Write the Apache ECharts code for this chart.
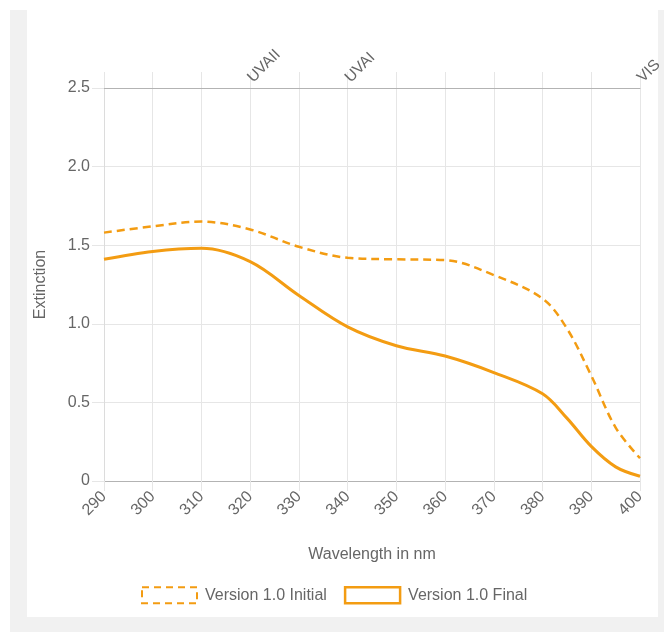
<!DOCTYPE html>
<html>
<head>
<meta charset="utf-8">
<script src="https://cdn.jsdelivr.net/npm/echarts@6/dist/echarts.min.js"></script>
<style>
html,body{margin:0;padding:0;background:#fff;width:664px;height:632px;overflow:hidden;}
#bg{position:absolute;left:10px;top:10px;width:654px;height:622px;background:#f1f1f1;}
#panel{position:absolute;left:27px;top:0;width:631px;height:617px;background:#fff;}
#chart{position:absolute;left:27px;top:0;width:637px;height:617px;}
</style>
</head>
<body>
<div id="bg"></div>
<div id="panel"></div>
<div id="chart"></div>
<script>
var wavelengths = [290, 300, 310, 320, 330, 340, 350, 360, 370, 380, 385, 390, 395, 400];
var initialValues = [1.58, 1.62, 1.65, 1.60, 1.49, 1.42, 1.41, 1.405, 1.31, 1.16, 0.97, 0.67, 0.34, 0.145];
var finalValues = [1.41, 1.46, 1.48, 1.395, 1.18, 0.98, 0.86, 0.795, 0.69, 0.555, 0.40, 0.22, 0.09, 0.03];
var topTickValues = [320, 340, 400];
var topTickNames = ['UVAII', 'UVAI', 'VIS'];
var seriesNames = ['Version 1.0 Initial', 'Version 1.0 Final'];

var ORANGE = '#f39c12';
var TXT = '#666';
var GRID = '#e6e6e6';
var FONT = 'Liberation Sans, Arial, sans-serif';

function pairs(xs, ys) { return xs.map(function (x, i) { return [x, ys[i]]; }); }

var chart = echarts.init(document.getElementById('chart'), null, { renderer: 'canvas' });
chart.setOption({
  animation: false,
  backgroundColor: 'transparent',
  textStyle: { fontFamily: FONT },
  grid: { left: 77, right: 24, top: 88, bottom: 136, containLabel: false, outerBoundsMode: 'none' },
  legend: {
    left: 109, top: 581,
    itemWidth: 55, itemHeight: 16, itemGap: 17,
    icon: 'rect',
    textStyle: { color: TXT, fontSize: 16, fontFamily: FONT, padding: [0, 0, 0, 3] },
    data: [
      { name: seriesNames[0], itemStyle: { color: 'transparent', borderColor: ORANGE, borderWidth: 2, borderType: [7, 5] } },
      { name: seriesNames[1], itemStyle: { color: 'transparent', borderColor: ORANGE, borderWidth: 2.5, borderType: 'solid' } }
    ]
  },
  xAxis: [
    {
      type: 'value', min: 290, max: 400, interval: 10, position: 'bottom',
      name: 'Wavelength in nm', nameLocation: 'middle', nameGap: 66,
      nameTextStyle: { color: TXT, fontSize: 16, fontFamily: FONT },
      axisLine: { show: true, lineStyle: { color: '#b3b3b3', width: 1 } },
      axisTick: { show: true, length: 10, lineStyle: { color: GRID } },
      axisLabel: { color: TXT, fontSize: 16, rotate: 45, margin: 13, showMinLabel: true, showMaxLabel: true },
      splitLine: { show: true, lineStyle: { color: GRID } }
    },
    {
      type: 'value', min: 290, max: 400, interval: 10, position: 'top',
      axisLine: { show: true, lineStyle: { color: '#b3b3b3', width: 1 } },
      axisTick: { show: true, length: 16, lineStyle: { color: GRID } },
      axisLabel: {
        color: TXT, fontSize: 15.5, rotate: -45, margin: 8, showMinLabel: true, showMaxLabel: true,
        formatter: function (v) { var i = topTickValues.indexOf(v); return i >= 0 ? topTickNames[i] : ''; }
      },
      splitLine: { show: false }
    }
  ],
  yAxis: {
    type: 'value', min: 0, max: 2.5, interval: 0.5,
    name: 'Extinction', nameLocation: 'middle', nameGap: 55,
    nameTextStyle: { color: TXT, fontSize: 16, fontFamily: FONT },
    axisLine: { show: true, lineStyle: { color: '#dcdcdc' } },
    axisTick: { show: true, length: 12, lineStyle: { color: GRID } },
    axisLabel: { color: TXT, fontSize: 16, margin: 14, formatter: function (v) { return v === 0 ? '0' : v.toFixed(1); } },
    splitLine: { show: true, lineStyle: { color: GRID } }
  },
  series: [
    {
      name: seriesNames[0], type: 'line', xAxisIndex: 0, smooth: 0.35, showSymbol: false, symbol: 'none',
      data: pairs(wavelengths, initialValues),
      lineStyle: { color: ORANGE, width: 2.5, type: [8, 5] },
      itemStyle: { color: ORANGE }
    },
    {
      name: seriesNames[1], type: 'line', xAxisIndex: 0, smooth: 0.35, showSymbol: false, symbol: 'none',
      data: pairs(wavelengths, finalValues),
      lineStyle: { color: ORANGE, width: 3 },
      itemStyle: { color: ORANGE }
    }
  ]
});
</script>
</body>
</html>
